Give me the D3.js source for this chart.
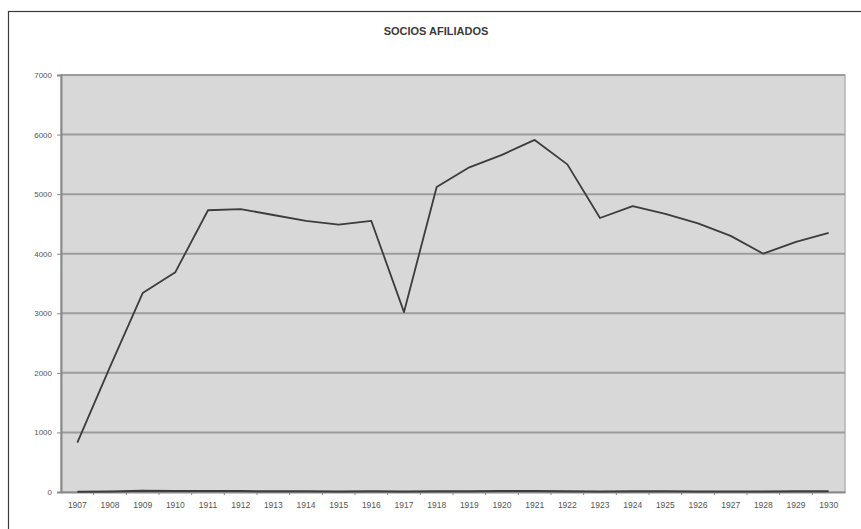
<!DOCTYPE html>
<html>
<head>
<meta charset="utf-8">
<script src="https://cdn.jsdelivr.net/npm/d3@7"></script>
<style>
  html, body { margin: 0; padding: 0; background: #fff; }
  svg { display: block; }
  text { font-family: "Liberation Sans", Arial, sans-serif; }
</style>
</head>
<body>
<svg id="chart" width="861" height="529"></svg>
<script>
// Membership by year
const years = ["1907","1908","1909","1910","1911","1912","1913","1914","1915","1916","1917","1918",
               "1919","1920","1921","1922","1923","1924","1925","1926","1927","1928","1929","1930"];
const socios = [830, 2100, 3340, 3690, 4730, 4750, 4650, 4550, 4490, 4550, 3020, 5120,
                5450, 5660, 5910, 5500, 4600, 4800, 4670, 4510, 4300, 4000, 4200, 4350];
// Second, near-zero series drawn along the baseline
const baseSeries = [5, 10, 20, 15, 15, 15, 12, 12, 10, 12, 10, 12,
                    12, 15, 15, 12, 10, 12, 12, 10, 10, 10, 12, 12];
const yTicks = [0, 1000, 2000, 3000, 4000, 5000, 6000, 7000];
const title = "SOCIOS AFILIADOS";

const svg = d3.select("#chart");
const plot = { left: 61, right: 845, top: 75, bottom: 492 };

// outer frame
svg.append("rect")
  .attr("x", 8.5).attr("y", 11.5)
  .attr("width", 870).attr("height", 540)
  .attr("fill", "none").attr("stroke", "#3a3a3a").attr("stroke-width", 1.2);

svg.append("text")
  .attr("x", 436).attr("y", 35)
  .attr("text-anchor", "middle")
  .attr("font-size", 11).attr("font-weight", "bold")
  .attr("fill", "#3a3a3a")
  .text(title);

const x = d3.scaleBand().domain(years).range([plot.left, plot.right]);
const y = d3.scaleLinear().domain([0, 7000]).range([plot.bottom, plot.top]);

// plot area
svg.append("rect")
  .attr("x", plot.left).attr("y", plot.top)
  .attr("width", plot.right - plot.left).attr("height", plot.bottom - plot.top)
  .attr("fill", "#d8d8d8").attr("stroke", "#b4b4b4").attr("stroke-width", 1.5);

// horizontal gridlines
svg.append("g").selectAll("line")
  .data(yTicks.filter(d => d > 0))
  .join("line")
  .attr("x1", plot.left).attr("x2", plot.right)
  .attr("y1", d => y(d)).attr("y2", d => y(d))
  .attr("stroke", "#9c9c9c").attr("stroke-width", 2);

// y axis
const yAxis = svg.append("g")
  .attr("transform", `translate(${plot.left},0)`)
  .call(d3.axisLeft(y).tickValues(yTicks).tickSize(4).tickPadding(5).tickFormat(d3.format("d")));
yAxis.select(".domain").attr("stroke", "#8a8a8a").attr("stroke-width", 2);
yAxis.selectAll(".tick line").attr("stroke", "#8a8a8a");
yAxis.selectAll("text").attr("font-size", 8).attr("fill", "#555")
  .attr("font-family", "'Liberation Sans', Arial, sans-serif");

// x axis
const xAxis = svg.append("g")
  .attr("transform", `translate(0,${plot.bottom})`)
  .call(d3.axisBottom(x).tickSize(0).tickPadding(10));
xAxis.select(".domain").attr("stroke", "#8a8a8a").attr("stroke-width", 2);
xAxis.selectAll("text").attr("font-size", 8.5).attr("fill", "#555")
  .attr("font-family", "'Liberation Sans', Arial, sans-serif");

// tick marks between categories
svg.append("g").selectAll("line")
  .data(years.slice(1))
  .join("line")
  .attr("x1", d => x(d)).attr("x2", d => x(d))
  .attr("y1", plot.bottom).attr("y2", plot.bottom + 3)
  .attr("stroke", "#8a8a8a");

const cx = d => x(d) + x.bandwidth() / 2;
const line = d3.line().x((d, i) => cx(years[i])).y(d => y(d));

svg.append("path")
  .datum(baseSeries)
  .attr("d", line)
  .attr("fill", "none").attr("stroke", "#3c3c3c").attr("stroke-width", 2);

svg.append("path")
  .datum(socios)
  .attr("d", line)
  .attr("fill", "none").attr("stroke", "#3c3c3c").attr("stroke-width", 1.8)
  .attr("stroke-linejoin", "round");
</script>
</body>
</html>
